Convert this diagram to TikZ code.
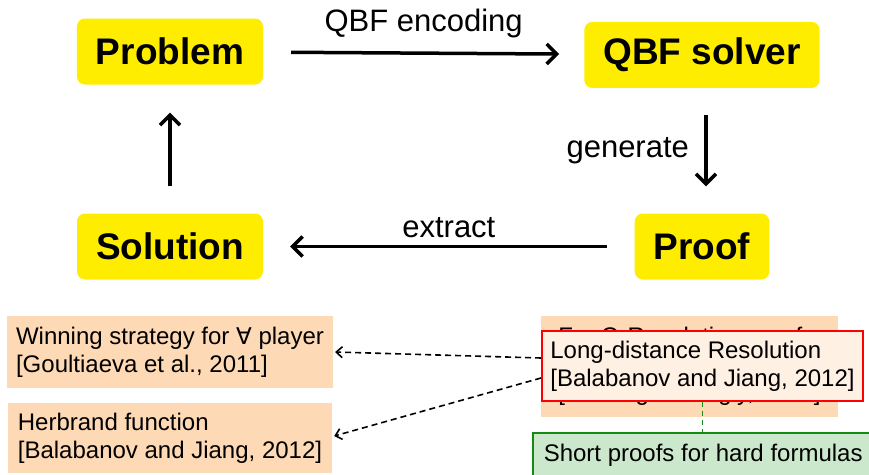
\documentclass[tikz,border=0pt]{standalone}
\usepackage{fontspec}
\setmainfont{Liberation Sans}
\newfontfamily\forallfont{DejaVu Sans}
\usetikzlibrary{arrows.meta,calc,matrix,positioning}
\definecolor{stageyellow}{RGB}{255,237,0}
\definecolor{citepeach}{RGB}{253,217,181}
\definecolor{citecream}{RGB}{255,240,228}
\definecolor{proofgreen}{RGB}{204,232,204}
\definecolor{proofline}{RGB}{20,140,20}
\tikzset{
  stage/.style={fill=stageyellow,rounded corners=8pt,inner xsep=19pt,
    minimum height=66pt,font=\fontsize{37}{40}\selectfont\bfseries},
  cite/.style={fill=citepeach,align=left,inner xsep=9pt,
    font=\fontsize{24}{28}\selectfont},
  flow/.style={line width=3.5pt,-{Straight Barb[length=10pt,width=20pt]}},
  hint/.style={line width=1.6pt,dash pattern=on 6pt off 4pt,
    -{Straight Barb[length=6pt,width=11pt]}},
  steplabel/.style={font=\fontsize{31}{34}\selectfont},
}

\begin{document}
\begin{tikzpicture}[x=1pt,y=-1pt]
%
  \clip (0,0) rectangle (869,474);
  \useasboundingbox (0,0) rectangle (869,474);
%
  \matrix[matrix of nodes,nodes={stage},matrix anchor=prob.center,
          column sep={532pt,between origins},
          row sep={195pt,between origins}] (m) at (170,51.5) {
%
    |[name=prob]| Problem
  & |[name=qbf]| QBF solver \\
%
    |[name=sol]| Solution
  & |[name=proof]| Proof \\
%
  } ;
%
  \draw [flow,shorten <=28pt,shorten >=25pt] (prob) -- (qbf)
    node [steplabel,above=10pt,midway] {QBF encoding} ;
  \draw [flow,shorten <=27pt,shorten >=27pt] ([xshift=4pt]qbf.south) -- ([xshift=4pt]proof.north)
    node [steplabel,left=12pt,midway] {generate} ;
  \draw [flow,shorten <=28pt,shorten >=27pt] (proof) -- (sol)
    node [steplabel,above=4pt,midway] {extract} ;
  \draw [flow,shorten <=27pt,shorten >=28pt] (sol) -- (prob) ;
%
  \node (win) [cite,minimum width=324pt,minimum height=72pt] at (170,352)
    {Winning strategy for {\forallfont\fontsize{23}{28}\selectfont ∀} player\\
     {[}Goultiaeva et al., 2011]} ;
  \node (herb) [cite,minimum width=324pt,minimum height=70pt] at (170,438)
    {Herbrand function\\{[}Balabanov and Jiang, 2012]} ;
%
  \node (qres) [cite,minimum width=297pt,minimum height=101pt] at (689.5,366.5)
    {For Q-Resolution proofs\\and its extensions\\{[}Lonsing and Egly, 2014]} ;
  \node (ldres) [cite,fill=citecream,draw=red,line width=2pt,inner xsep=8pt,
    minimum width=321pt,minimum height=70pt] at (702.5,366)
    {Long-distance Resolution\\{[}Balabanov and Jiang, 2012]} ;
%
  \node (short) [cite,fill=proofgreen,draw=proofline,line width=1.5pt,
    anchor=north west,inner xsep=11pt,inner ysep=11pt,minimum width=360pt] at (532,432)
    {Short proofs for hard formulas\hspace*{20pt}} ;
%
  \draw [proofline,line width=0.9pt,dash pattern=on 5pt off 4pt]
    (ldres.south) -- (ldres.south |- short.north) ;
%
  \draw [hint] ([yshift=8pt]ldres.west) -- ([xshift=2pt]win.east) ;
  \draw [hint] ([yshift=-12pt]ldres.west) -- ([xshift=2pt,yshift=2pt]herb.east) ;
%
\end{tikzpicture}
\end{document}
